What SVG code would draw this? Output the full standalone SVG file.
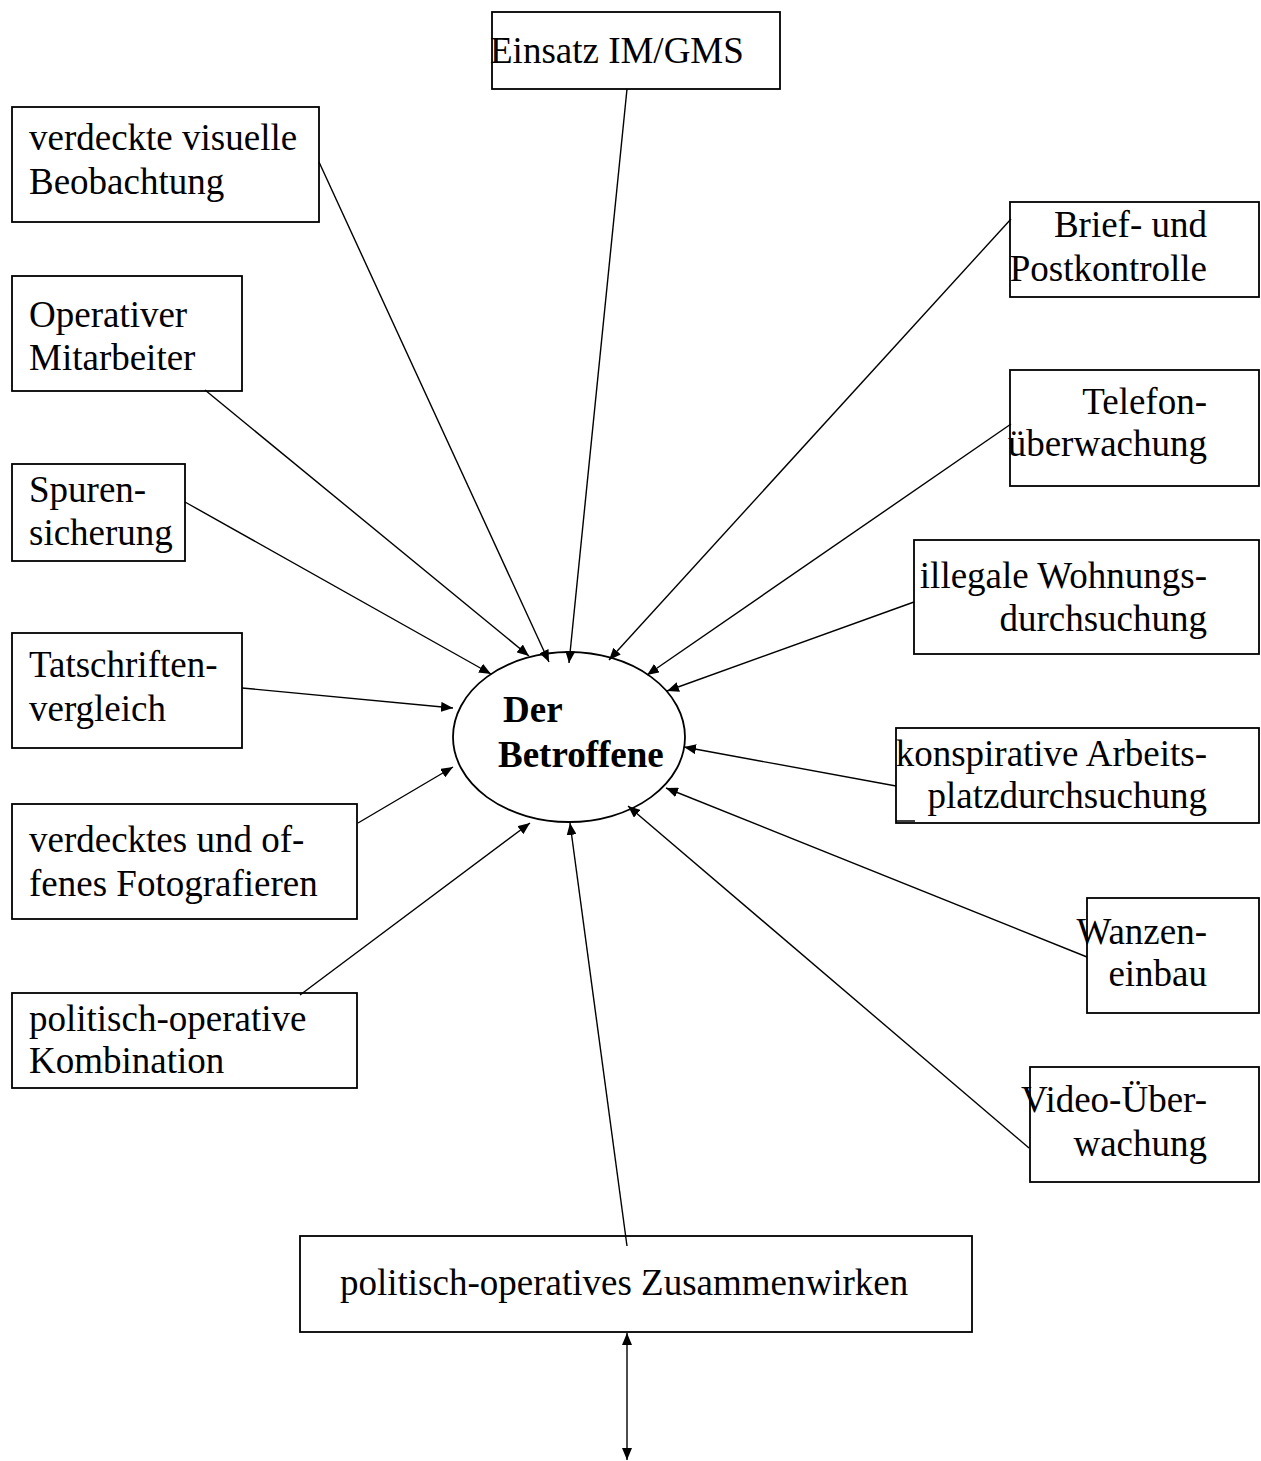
<svg xmlns="http://www.w3.org/2000/svg" width="1261" height="1461" viewBox="0 0 1261 1461">
<style>
  .box { fill: #ffffff; stroke: #000000; stroke-width: 1.8; }
  .t { font-family: "Liberation Serif", "Times New Roman", serif; font-size: 37px; fill: #000000; }
  .r { text-anchor: end; }
  .b { font-weight: bold; }
  .c line { stroke: #000000; stroke-width: 1.4; marker-end: url(#arr); }
</style>
<defs>
  <marker id="arr" markerUnits="userSpaceOnUse" markerWidth="12" markerHeight="10" refX="12" refY="5" orient="auto">
    <path d="M0,0 L12,5 L0,10 z" fill="#000000"/>
  </marker>
  <marker id="arr2" markerUnits="userSpaceOnUse" markerWidth="12" markerHeight="10" refX="12" refY="5" orient="auto-start-reverse">
    <path d="M0,0 L12,5 L0,10 z" fill="#000000"/>
  </marker>
</defs>
<rect width="1261" height="1461" fill="#ffffff"/>

<g id="n-einsatz">
  <rect class="box" x="492" y="12" width="288" height="77"/>
  <text class="t" x="490" y="63">Einsatz IM/GMS</text>
</g>
<g id="n-beobachtung">
  <rect class="box" x="12" y="107" width="307" height="115"/>
  <text class="t" x="29" y="150">verdeckte visuelle</text>
  <text class="t" x="29" y="194">Beobachtung</text>
</g>
<g id="n-operativer">
  <rect class="box" x="12" y="276" width="230" height="115"/>
  <text class="t" x="29" y="327">Operativer</text>
  <text class="t" x="29" y="370">Mitarbeiter</text>
</g>
<g id="n-spuren">
  <rect class="box" x="12" y="464" width="173" height="97"/>
  <text class="t" x="29" y="502">Spuren-</text>
  <text class="t" x="29" y="545">sicherung</text>
</g>
<g id="n-tatschriften">
  <rect class="box" x="12" y="633" width="230" height="115"/>
  <text class="t" x="29" y="677">Tatschriften-</text>
  <text class="t" x="29" y="721">vergleich</text>
</g>
<g id="n-foto">
  <rect class="box" x="12" y="804" width="345" height="115"/>
  <text class="t" x="29" y="852">verdecktes und of-</text>
  <text class="t" x="29" y="896">fenes Fotografieren</text>
</g>
<g id="n-kombination">
  <rect class="box" x="12" y="993" width="345" height="95"/>
  <text class="t" x="29" y="1031">politisch-operative</text>
  <text class="t" x="29" y="1073">Kombination</text>
</g>
<g id="n-brief">
  <rect class="box" x="1010" y="202" width="249" height="95"/>
  <text class="t r" x="1207" y="237">Brief- und</text>
  <text class="t r" x="1207" y="281">Postkontrolle</text>
</g>
<g id="n-telefon">
  <rect class="box" x="1010" y="370" width="249" height="116"/>
  <text class="t r" x="1207" y="414">Telefon-</text>
  <text class="t r" x="1207" y="456">überwachung</text>
</g>
<g id="n-wohnung">
  <rect class="box" x="914" y="540" width="345" height="114"/>
  <text class="t r" x="1207" y="588">illegale Wohnungs-</text>
  <text class="t r" x="1207" y="631">durchsuchung</text>
</g>
<g id="n-arbeitsplatz">
  <rect class="box" x="896" y="728" width="363" height="95"/>
  <text class="t r" x="1207" y="766">konspirative Arbeits-</text>
  <text class="t r" x="1207" y="808">platzdurchsuchung</text>
  <line x1="896" y1="821" x2="915" y2="821" stroke="#000000" stroke-width="1.5"/>
</g>
<g id="n-wanzen">
  <rect class="box" x="1087" y="898" width="172" height="115"/>
  <text class="t r" x="1207" y="944">Wanzen-</text>
  <text class="t r" x="1207" y="986">einbau</text>
</g>
<g id="n-video">
  <rect class="box" x="1030" y="1067" width="229" height="115"/>
  <text class="t r" x="1207" y="1112">Video-Über-</text>
  <text class="t r" x="1207" y="1156">wachung</text>
</g>
<g id="n-zusammenwirken">
  <rect class="box" x="300" y="1236" width="672" height="96"/>
  <text class="t" x="340" y="1295">politisch-operatives Zusammenwirken</text>
</g>
<g id="n-betroffene">
  <ellipse cx="569" cy="737" rx="116" ry="85" fill="#ffffff" stroke="#000000" stroke-width="1.8"/>
  <text class="t b" x="503" y="722">Der</text>
  <text class="t b" x="498" y="767">Betroffene</text>
</g>

<g id="connectors" class="c">
  <line x1="627" y1="89" x2="569" y2="663"/>
  <line x1="319" y1="162" x2="549" y2="662"/>
  <line x1="205" y1="390" x2="529" y2="656"/>
  <line x1="185" y1="502" x2="491" y2="674"/>
  <line x1="242" y1="688" x2="453" y2="708"/>
  <line x1="358" y1="823" x2="453" y2="767"/>
  <line x1="300" y1="995" x2="530" y2="823"/>
  <line x1="1011" y1="219" x2="609" y2="660"/>
  <line x1="1011" y1="424" x2="647" y2="675"/>
  <line x1="914" y1="602" x2="667" y2="691"/>
  <line x1="896" y1="786" x2="684" y2="747"/>
  <line x1="1087" y1="957" x2="666" y2="788"/>
  <line x1="1029" y1="1148" x2="628" y2="806"/>
  <line x1="627" y1="1246" x2="570" y2="823"/>
  <line x1="627" y1="1333" x2="627" y2="1460" style="marker-start: url(#arr2); marker-end: url(#arr2);"/>
</g>
</svg>
